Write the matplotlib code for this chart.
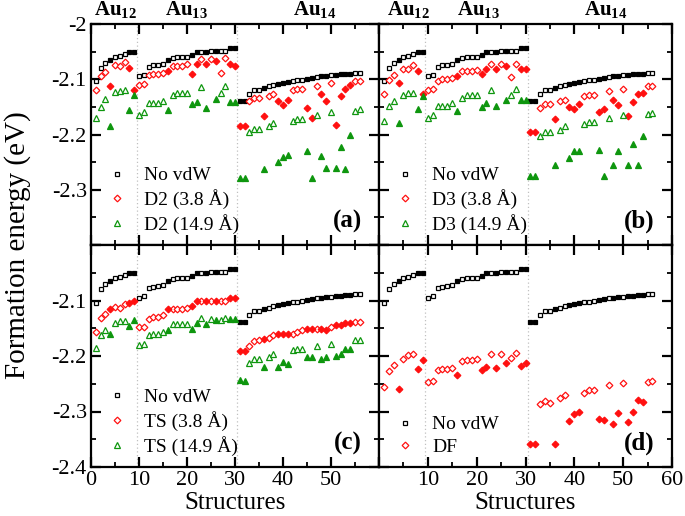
import numpy as np
import matplotlib
matplotlib.use('Agg')
import matplotlib.pyplot as plt
from matplotlib.lines import Line2D
from matplotlib.ticker import MultipleLocator

plt.rcParams['font.family'] = ['Liberation Serif', 'DejaVu Serif']
plt.rcParams['mathtext.fontset'] = 'custom'
plt.rcParams['mathtext.rm'] = 'Liberation Serif'
plt.rcParams['mathtext.bf'] = 'Liberation Serif:bold'
plt.rcParams['axes.unicode_minus'] = False

# structures 1..9 = Au12, 10..30 = Au13, 31..56 = Au14
structures = np.arange(1, 57)
cluster_labels = ['Au$_{\\mathbf{12}}$', 'Au$_{\\mathbf{13}}$', 'Au$_{\\mathbf{14}}$']

# filled (1) / open (0) marker per structure
filled = [0, 0, 0, 1, 0, 0, 0, 1, 1,
          0, 0, 0, 0, 0, 0, 1, 0, 0, 0, 0, 1, 1, 0, 1, 0, 1, 0, 0, 1, 1,
          1, 1, 0, 0, 0, 1, 0, 0, 1, 1, 1, 0, 0, 0, 1, 1, 0, 1, 1, 0, 1, 1, 1, 1, 0, 0]

no_vdw = [-2.104, -2.080, -2.070, -2.065, -2.060, -2.058, -2.054, -2.051, -2.050,
          -2.095, -2.092, -2.078, -2.075, -2.074, -2.072, -2.065, -2.061, -2.060, -2.060, -2.059,
          -2.056, -2.051, -2.050, -2.050, -2.049, -2.049, -2.049, -2.049, -2.044, -2.043,
          -2.139, -2.139, -2.126, -2.119, -2.119, -2.116, -2.113, -2.110, -2.108, -2.107, -2.105,
          -2.103, -2.102, -2.101, -2.099, -2.098, -2.096, -2.095, -2.094, -2.093, -2.092, -2.091,
          -2.090, -2.090, -2.088, -2.088]

d2_short = [-2.120, -2.094, -2.087, -2.112, -2.075, -2.076, -2.068, -2.079, -2.120,
            -2.111, -2.108, -2.093, -2.091, -2.090, -2.088, -2.085, -2.076, -2.076, -2.076, -2.073,
            -2.090, -2.073, -2.064, -2.073, -2.064, -2.067, -2.088, -2.062, -2.073, -2.076,
            -2.184, -2.184, -2.140, -2.134, -2.134, -2.166, -2.130, -2.127, -2.139, -2.146, -2.137,
            -2.120, -2.118, -2.118, -2.152, -2.170, -2.112, -2.127, -2.140, -2.107, -2.183, -2.131,
            -2.118, -2.111, -2.103, -2.103]

d2_long = [-2.170, -2.150, -2.135, -2.184, -2.123, -2.121, -2.120, -2.156, -2.128,
           -2.165, -2.160, -2.143, -2.143, -2.143, -2.139, -2.155, -2.129, -2.125, -2.125, -2.124,
           -2.145, -2.142, -2.114, -2.152, np.nan, -2.136, -2.125, -2.112, -2.141, -2.141,
           -2.279, -2.279, -2.196, -2.190, -2.190, -2.263, -2.184, -2.180, -2.250, -2.240, -2.237,
           -2.175, -2.172, -2.172, -2.230, -2.279, -2.164, -2.239, -2.261, -2.160, -2.260, -2.223,
           -2.263, -2.201, -2.157, -2.154]

d3_short = [-2.127, -2.101, -2.093, -2.106, -2.082, -2.082, -2.075, -2.085, -2.126,
            -2.120, -2.118, -2.103, -2.100, -2.099, -2.098, -2.095, -2.085, -2.085, -2.085, -2.084,
            -2.090, -2.082, -2.073, -2.082, -2.073, -2.076, -2.096, -2.072, -2.082, -2.082,
            -2.195, -2.195, -2.152, -2.145, -2.145, -2.172, -2.139, -2.137, -2.150, -2.153, -2.145,
            -2.131, -2.128, -2.128, -2.159, -2.153, -2.121, -2.137, -2.146, -2.118, -2.167, -2.141,
            -2.126, -2.125, -2.113, -2.113]

d3_long = [-2.176, -2.149, -2.140, -2.179, -2.128, -2.125, -2.125, -2.153, -2.130,
           -2.170, -2.165, -2.149, -2.149, -2.149, -2.143, -2.158, -2.134, -2.129, -2.129, -2.128,
           -2.150, -2.143, -2.120, -2.149, np.nan, -2.138, -2.128, -2.118, -2.138, -2.137,
           -2.275, -2.275, -2.202, -2.196, -2.196, -2.255, -2.191, -2.185, -2.243, -2.230, -2.230,
           -2.181, -2.178, -2.178, -2.228, -2.275, -2.170, -2.255, -2.229, -2.165, -2.255, -2.218,
           -2.255, -2.202, -2.162, -2.161]

ts_short = [-2.156, -2.131, -2.124, -2.115, -2.111, -2.113, -2.107, -2.104, -2.101,
            -2.148, -2.147, -2.133, -2.130, -2.129, -2.127, -2.116, -2.116, -2.116, -2.116, -2.114,
            -2.110, -2.101, -2.101, -2.101, -2.101, -2.100, -2.100, -2.101, -2.095, -2.096,
            -2.191, -2.191, -2.182, -2.173, -2.172, -2.170, -2.167, -2.162, -2.161, -2.161, -2.161,
            -2.161, -2.156, -2.153, -2.152, -2.152, -2.152, -2.152, -2.154, -2.148, -2.145, -2.145,
            -2.140, -2.140, -2.139, -2.139]

ts_long = [-2.185, -2.162, -2.153, -2.160, -2.140, -2.137, -2.137, -2.146, -2.136,
           -2.181, -2.178, -2.162, -2.160, -2.160, -2.157, -2.154, -2.143, -2.143, -2.143, -2.143,
           -2.151, -2.140, -2.131, -2.143, -2.133, -2.136, -2.135, -2.131, -2.133, -2.133,
           -2.243, -2.245, -2.213, -2.206, -2.205, -2.220, -2.202, -2.196, -2.219, -2.211, -2.215,
           -2.190, -2.188, -2.188, -2.202, -2.202, -2.182, -2.205, -2.202, -2.179, -2.200, -2.196,
           -2.187, -2.187, -2.171, -2.171]

df = [-2.256, -2.227, -2.217, -2.259, -2.206, -2.198, -2.197, -2.224, -2.207,
      -2.247, -2.245, -2.226, -2.224, -2.224, -2.221, -2.235, -2.209, -2.207, -2.207, -2.206,
      -2.226, -2.219, -2.196, -2.221, -2.196, -2.212, -2.204, -2.195, -2.218, -2.212,
      -2.359, -2.359, -2.287, -2.281, -2.284, -2.359, -2.275, -2.270, -2.318, -2.305, -2.301,
      -2.266, -2.261, -2.261, -2.313, -2.315, -2.252, -2.322, -2.302, -2.248, -2.319, -2.301,
      -2.280, -2.283, -2.246, -2.245]

RED = '#ff1010'
GREEN = '#0e960e'
styles = {
    'nov': dict(marker='s', color='black', ms=3.2),
    'short': dict(marker='D', color=RED, ms=3.4),
    'long': dict(marker='^', color=GREEN, ms=3.9),
}

panels = [
    ('(a)', [('nov', no_vdw, 'No vdW'), ('short', d2_short, 'D2 (3.8 Å)'), ('long', d2_long, 'D2 (14.9 Å)')]),
    ('(b)', [('nov', no_vdw, 'No vdW'), ('short', d3_short, 'D3 (3.8 Å)'), ('long', d3_long, 'D3 (14.9 Å)')]),
    ('(c)', [('nov', no_vdw, 'No vdW'), ('short', ts_short, 'TS (3.8 Å)'), ('long', ts_long, 'TS (14.9 Å)')]),
    ('(d)', [('nov', no_vdw, 'No vdW'), ('short', df, 'DF')]),
]

W, H = 685, 516
fig = plt.figure(figsize=(W / 100, H / 100), dpi=100)
rects = [
    (91 / W, 1 - 245 / H, 288 / W, 221 / H),
    (379 / W, 1 - 245 / H, 293 / W, 221 / H),
    (91 / W, 1 - 467 / H, 288 / W, 222 / H),
    (379 / W, 1 - 467 / H, 293 / W, 222 / H),
]

mask = np.array(filled, dtype=bool)
au_pos = [[5.0, 19.9, 46.7], [6.0, 20.3, 46.4]]

for i, (rect, (letter, series)) in enumerate(zip(rects, panels)):
    ax = fig.add_axes(rect)
    top = i < 2
    left = i % 2 == 0

    for xb in (9.5, 30.5):
        ax.axvline(xb, color='#c0c0c0', ls=(0, (1, 2)), lw=0.9, zorder=0)

    handles = []
    for key, vals, lab in series:
        st = styles[key]
        y = np.array(vals)
        ax.plot(structures[~mask], y[~mask], ls='none', marker=st['marker'], ms=st['ms'],
                mfc='white', mec=st['color'], mew=0.9)
        ax.plot(structures[mask], y[mask], ls='none', marker=st['marker'], ms=st['ms'],
                mfc=st['color'], mec=st['color'], mew=0.9)
        handles.append(Line2D([], [], ls='none', marker=st['marker'], ms=st['ms'],
                              mfc='white', mec=st['color'], mew=0.9, label=lab))

    ax.set_xlim(0, 60)
    ax.set_ylim(-2.4, -2.0)
    ax.set_xticks(range(0, 61, 10))
    ax.xaxis.set_minor_locator(MultipleLocator(5))
    ax.set_yticks([-2.4, -2.3, -2.2, -2.1, -2.0])
    ax.yaxis.set_minor_locator(MultipleLocator(0.05))

    if top:
        ax.set_xticklabels([])
    elif left:
        ax.set_xticklabels(['0', '10', '20', '30', '40', '50', ''])
    else:
        ax.set_xticklabels(['', '10', '20', '30', '40', '50', '60'])
    if not left:
        ax.set_yticklabels([])
    elif top:
        ax.set_yticklabels(['', '-2.3', '-2.2', '-2.1', '-2'])
    else:
        ax.set_yticklabels(['-2.4', '-2.3', '-2.2', '-2.1', ''])

    ax.tick_params(which='both', direction='in', top=True, right=True, labelsize=16, pad=3)
    ax.tick_params(which='major', length=7, width=1.6)
    ax.tick_params(which='minor', length=3.5, width=1.3)
    for sp in ax.spines.values():
        sp.set_linewidth(1.6)

    if not top:
        ax.set_xlabel('Structures', fontsize=18, labelpad=1)

    if top:
        for xc, lab in zip(au_pos[i], cluster_labels):
            ax.text(xc, 1.012, lab, transform=ax.get_xaxis_transform(), ha='center',
                    va='bottom', fontsize=15, fontweight='bold')

    ax.text(0.94, 0.055, letter, transform=ax.transAxes, ha='right', va='bottom',
            fontsize=18, fontweight='bold')

    ax.legend(handles=handles, loc='lower left', bbox_to_anchor=(0.055, 0.05),
              frameon=False, fontsize=14, handlelength=1.0, handletextpad=0.9,
              labelspacing=0.25, borderpad=0, borderaxespad=0, numpoints=1)

fig.text(18 / W, 1 - 245 / H, 'Formation energy (eV)', rotation=90, ha='center',
         va='center', fontsize=21)

fig.savefig('out.png', dpi=100)
